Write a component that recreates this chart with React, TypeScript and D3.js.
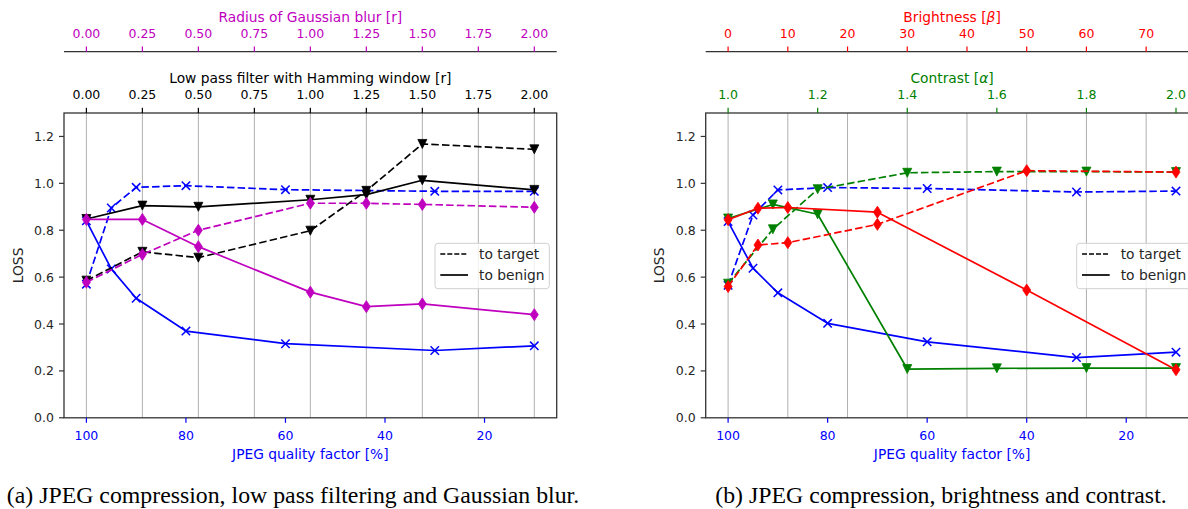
import React from "react";
import * as d3 from "d3";

// ---------- data ----------
const jpegQuality = [100, 95, 90, 80, 60, 30, 10];

// panel (a)
const jpegTargetA = [0.57, 0.895, 0.983, 0.99, 0.973, 0.966, 0.966];
const jpegBenignA = [0.84, 0.635, 0.51, 0.37, 0.316, 0.287, 0.307];
const radius = [0, 0.25, 0.5, 1.0, 1.25, 1.5, 2.0];
const hammingTarget = [0.585, 0.708, 0.683, 0.798, 0.968, 1.168, 1.145];
const hammingBenign = [0.848, 0.905, 0.9, 0.93, 0.952, 1.013, 0.972];
const gaussTarget = [0.578, 0.697, 0.8, 0.915, 0.915, 0.91, 0.898];
const gaussBenign = [0.846, 0.846, 0.73, 0.536, 0.474, 0.486, 0.44];

// panel (b)
const jpegTargetB = [0.565, 0.865, 0.972, 0.982, 0.978, 0.963, 0.967];
const jpegBenignB = [0.837, 0.638, 0.533, 0.403, 0.324, 0.257, 0.28];
const contrast = [1.0, 1.1, 1.2, 1.4, 1.6, 1.8, 2.0];
const contrastTarget = [0.572, 0.804, 0.975, 1.045, 1.05, 1.05, 1.048];
const contrastBenign = [0.85, 0.91, 0.868, 0.208, 0.211, 0.212, 0.212];
const brightness = [0, 5, 10, 25, 50, 75];
const brightTarget = [0.56, 0.737, 0.747, 0.825, 1.054, 1.048];
const brightBenign = [0.845, 0.894, 0.897, 0.877, 0.545, 0.205];

// ticks
const yTicks = [0, 0.2, 0.4, 0.6, 0.8, 1.0, 1.2];
const jpegTicks = [100, 80, 60, 40, 20];
const radiusTicks = [0, 0.25, 0.5, 0.75, 1.0, 1.25, 1.5, 1.75, 2.0];
const contrastTicks = [1.0, 1.2, 1.4, 1.6, 1.8, 2.0];
const brightnessTicks = [0, 10, 20, 30, 40, 50, 60, 70];

const captions = [
  "(a) JPEG compression, low pass filtering and Gaussian blur.",
  "(b) JPEG compression, brightness and contrast.",
];

// ---------- style ----------
const W = 1188;
const H = 509;
const FONT = "DejaVu Sans, sans-serif";
const FS = 12.5; // tick labels
const FL = 13.8; // axis labels / legend
const BLUE = "#0000ff";
const MAG = "#bf00bf";
const BLACK = "#000000";
const RED = "#ff0000";
const GREEN = "#008000";
const SPINE = "#333333";
const TXT = "#262626";
const DASH = "7.5,3.2";
const LW = 1.7;

const yTop = 113;
const yBot = 417.8;
const yScale = d3.scaleLinear().domain([0, 1.3]).range([yBot, yTop]);

type MarkerKind = "x" | "v" | "d";

function Marker({ kind, x, y, color }: { kind: MarkerKind; x: number; y: number; color: string }) {
  if (kind === "x") {
    const r = 4.2;
    return (
      <g stroke={color} strokeWidth={1.5}>
        <line x1={x - r} y1={y - r} x2={x + r} y2={y + r} />
        <line x1={x - r} y1={y + r} x2={x + r} y2={y - r} />
      </g>
    );
  }
  if (kind === "v") {
    const r = 4.5;
    return (
      <path
        d={`M${x - r},${y - r}L${x + r},${y - r}L${x},${y + r}Z`}
        fill={color}
        stroke={color}
        strokeWidth={0.8}
      />
    );
  }
  const rh = 6;
  const rw = 4;
  return (
    <path
      d={`M${x},${y - rh}L${x + rw},${y}L${x},${y + rh}L${x - rw},${y}Z`}
      fill={color}
      stroke={color}
      strokeWidth={0.8}
    />
  );
}

function Series({
  xs,
  ys,
  xScale,
  color,
  dashed,
  marker,
}: {
  xs: number[];
  ys: number[];
  xScale: d3.ScaleLinear<number, number>;
  color: string;
  dashed: boolean;
  marker: MarkerKind;
}) {
  const pts: [number, number][] = xs.map((v, i) => [xScale(v), yScale(ys[i])]);
  const line = d3.line<[number, number]>().x((p) => p[0]).y((p) => p[1]);
  return (
    <g>
      <path
        d={line(pts) || ""}
        fill="none"
        stroke={color}
        strokeWidth={LW}
        strokeDasharray={dashed ? DASH : undefined}
        strokeLinejoin="round"
      />
      {pts.map((p, i) => (
        <Marker key={i} kind={marker} x={p[0]} y={p[1]} color={color} />
      ))}
    </g>
  );
}

function TopAxis({
  scale,
  ticks,
  fmt,
  color,
  spineY,
  title,
  drawSpine,
  x0,
  x1,
}: {
  scale: d3.ScaleLinear<number, number>;
  ticks: number[];
  fmt: (v: number) => string;
  color: string;
  spineY: number;
  title: React.ReactNode;
  drawSpine: boolean;
  x0: number;
  x1: number;
}) {
  return (
    <g>
      {drawSpine && <line x1={x0} x2={x1} y1={spineY} y2={spineY} stroke={SPINE} strokeWidth={1.3} />}
      {ticks.map((t) => (
        <g key={t}>
          <line x1={scale(t)} x2={scale(t)} y1={spineY - 5.2} y2={spineY} stroke={color} strokeWidth={1.2} />
          <text
            x={scale(t)}
            y={spineY - 18.3}
            fill={color}
            fontSize={FS}
            fontFamily={FONT}
            textAnchor="middle"
            dominantBaseline="central"
          >
            {fmt(t)}
          </text>
        </g>
      ))}
      <text
        x={(x0 + x1) / 2}
        y={spineY - 35}
        fill={color}
        fontSize={FL}
        fontFamily={FONT}
        textAnchor="middle"
        dominantBaseline="central"
      >
        {title}
      </text>
    </g>
  );
}

function Legend({ x, y }: { x: number; y: number }) {
  return (
    <g>
      <rect x={x} y={y} width={114.3} height={45.4} rx={3} fill="white" fillOpacity={0.8} stroke="#d0d0d0" strokeWidth={1} />
      <line x1={x + 5.3} x2={x + 33} y1={y + 10.7} y2={y + 10.7} stroke={BLACK} strokeWidth={LW} strokeDasharray="5,2" />
      <line x1={x + 5.3} x2={x + 33} y1={y + 31.7} y2={y + 31.7} stroke={BLACK} strokeWidth={LW} />
      <text x={x + 44} y={y + 10.7} fontSize={FL} fontFamily={FONT} fill={TXT} dominantBaseline="central">
        to target
      </text>
      <text x={x + 44} y={y + 31.7} fontSize={FL} fontFamily={FONT} fill={TXT} dominantBaseline="central">
        to benign
      </text>
    </g>
  );
}

function Panel({ idx, x0, x1 }: { idx: number; x0: number; x1: number }) {
  const jpeg = d3.scaleLinear().domain([104.5, 5.5]).range([x0, x1]);
  const clipId = `clip${idx}`;
  const fmt2 = (v: number) => v.toFixed(2);

  let gridScale: d3.ScaleLinear<number, number>;
  let gridTicks: number[];
  let upper: React.ReactNode;
  let lower: React.ReactNode;
  let content: React.ReactNode;

  if (idx === 0) {
    const r = d3.scaleLinear().domain([-0.1, 2.1]).range([x0, x1]);
    gridScale = r;
    gridTicks = radiusTicks;
    upper = (
      <TopAxis scale={r} ticks={radiusTicks} fmt={fmt2} color={MAG} spineY={51.7} title="Radius of Gaussian blur [r]" drawSpine x0={x0} x1={x1} />
    );
    lower = (
      <TopAxis scale={r} ticks={radiusTicks} fmt={fmt2} color={BLACK} spineY={yTop} title="Low pass filter with Hamming window [r]" drawSpine={false} x0={x0} x1={x1} />
    );
    content = (
      <g>
        <Series xs={jpegQuality} ys={jpegTargetA} xScale={jpeg} color={BLUE} dashed marker="x" />
        <Series xs={jpegQuality} ys={jpegBenignA} xScale={jpeg} color={BLUE} dashed={false} marker="x" />
        <Series xs={radius} ys={hammingTarget} xScale={r} color={BLACK} dashed marker="v" />
        <Series xs={radius} ys={hammingBenign} xScale={r} color={BLACK} dashed={false} marker="v" />
        <Series xs={radius} ys={gaussTarget} xScale={r} color={MAG} dashed marker="d" />
        <Series xs={radius} ys={gaussBenign} xScale={r} color={MAG} dashed={false} marker="d" />
      </g>
    );
  } else {
    const c = d3.scaleLinear().domain([0.95, 2.05]).range([x0, x1]);
    const b = d3.scaleLinear().domain([-3.75, 78.75]).range([x0, x1]);
    gridScale = b;
    gridTicks = brightnessTicks;
    upper = (
      <TopAxis scale={b} ticks={brightnessTicks} fmt={(v) => String(v)} color={RED} spineY={51.7} title={<>Brightness [<tspan fontStyle="italic">β</tspan>]</>} drawSpine x0={x0} x1={x1} />
    );
    lower = (
      <TopAxis scale={c} ticks={contrastTicks} fmt={(v) => v.toFixed(1)} color={GREEN} spineY={yTop} title={<>Contrast [<tspan fontStyle="italic">α</tspan>]</>} drawSpine={false} x0={x0} x1={x1} />
    );
    content = (
      <g>
        <Series xs={jpegQuality} ys={jpegTargetB} xScale={jpeg} color={BLUE} dashed marker="x" />
        <Series xs={jpegQuality} ys={jpegBenignB} xScale={jpeg} color={BLUE} dashed={false} marker="x" />
        <Series xs={contrast} ys={contrastTarget} xScale={c} color={GREEN} dashed marker="v" />
        <Series xs={contrast} ys={contrastBenign} xScale={c} color={GREEN} dashed={false} marker="v" />
        <Series xs={brightness} ys={brightTarget} xScale={b} color={RED} dashed marker="d" />
        <Series xs={brightness} ys={brightBenign} xScale={b} color={RED} dashed={false} marker="d" />
      </g>
    );
  }

  return (
    <g>
      <defs>
        <clipPath id={clipId}>
          <rect x={x0 - 8} y={yTop - 8} width={x1 - x0 + 16} height={yBot - yTop + 16} />
        </clipPath>
      </defs>
      {/* grid */}
      {gridTicks.map((t) => (
        <line key={t} x1={gridScale(t)} x2={gridScale(t)} y1={yTop} y2={yBot} stroke="#b0b0b0" strokeWidth={1} />
      ))}
      <g clipPath={`url(#${clipId})`}>{content}</g>
      {/* frame */}
      <rect x={x0} y={yTop} width={x1 - x0} height={yBot - yTop} fill="none" stroke={SPINE} strokeWidth={1.3} />
      {/* y axis */}
      {yTicks.map((t) => (
        <g key={t}>
          <line x1={x0 - 5} x2={x0} y1={yScale(t)} y2={yScale(t)} stroke={SPINE} strokeWidth={1.2} />
          <text x={x0 - 10} y={yScale(t)} fill={TXT} fontSize={FS} fontFamily={FONT} textAnchor="end" dominantBaseline="central">
            {t.toFixed(1)}
          </text>
        </g>
      ))}
      <text
        transform={`translate(${x0 - 46.5},${(yTop + yBot) / 2}) rotate(-90)`}
        fill={TXT}
        fontSize={FL}
        fontFamily={FONT}
        textAnchor="middle"
        dominantBaseline="central"
      >
        LOSS
      </text>
      {/* bottom axis */}
      {jpegTicks.map((t) => (
        <g key={t}>
          <line x1={jpeg(t)} x2={jpeg(t)} y1={yBot} y2={yBot + 5} stroke={BLUE} strokeWidth={1.2} />
          <text x={jpeg(t)} y={yBot + 17.3} fill={BLUE} fontSize={FS} fontFamily={FONT} textAnchor="middle" dominantBaseline="central">
            {t}
          </text>
        </g>
      ))}
      <text x={(x0 + x1) / 2} y={yBot + 36.4} fill={BLUE} fontSize={FL} fontFamily={FONT} textAnchor="middle" dominantBaseline="central">
        JPEG quality factor [%]
      </text>
      {upper}
      {lower}
      <Legend x={x1 - 121.7} y={243.3} />
    </g>
  );
}

export default function App() {
  return (
    <svg
      width={W}
      height={H}
      viewBox={`0 0 ${W} ${H}`}
      style={{ position: "absolute", left: 0, top: 0, background: "white" }}
    >
      <rect x={0} y={0} width={W} height={H} fill="white" />
      <Panel idx={0} x0={64} x1={556.7} />
      <Panel idx={1} x0={705.7} x1={1198.4} />
      <text x={293} y={502.5} fontSize={23.8} fontFamily="Liberation Serif, Times New Roman, serif" textAnchor="middle" fill="#000">
        {captions[0]}
      </text>
      <text x={941} y={502.5} fontSize={23.8} fontFamily="Liberation Serif, Times New Roman, serif" textAnchor="middle" fill="#000">
        {captions[1]}
      </text>
    </svg>
  );
}
